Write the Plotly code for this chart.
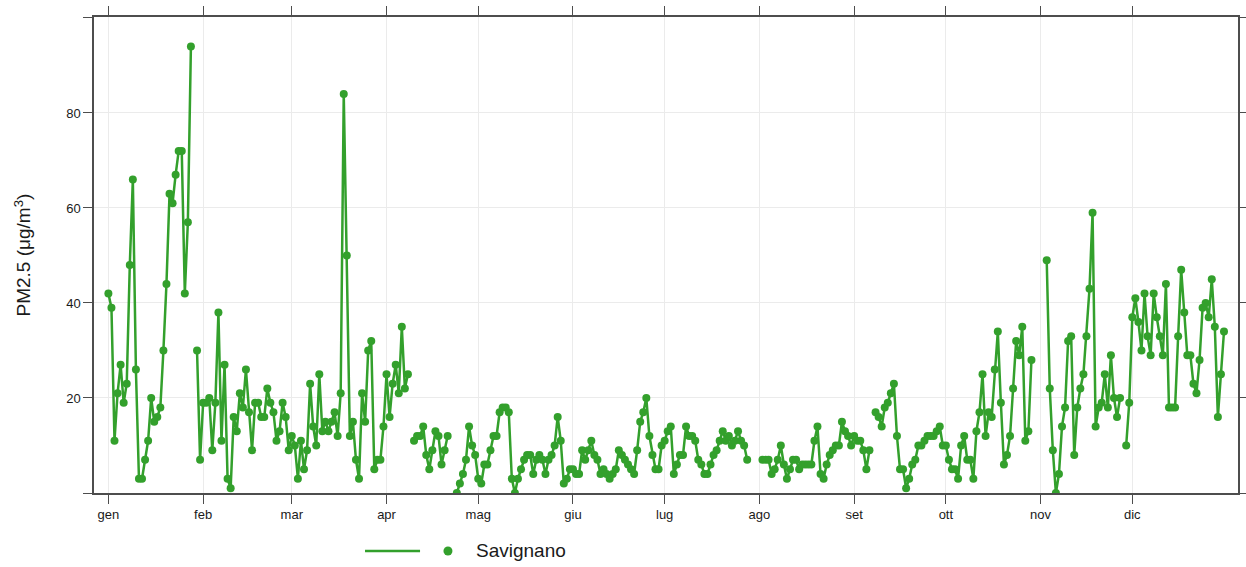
import pandas as pd
import plotly.graph_objects as go

# Daily PM2.5 at Savignano, 2020 (leap year); None = missing day
jan = [42, 39, 11, 21, 27, 19, 23, 48, 66, 26, 3, 3, 7, 11, 20, 15, 16, 18, 30, 44,
       63, 61, 67, 72, 72, 42, 57, 94, None, 30, 7]
feb = [19, 19, 20, 9, 19, 38, 11, 27, 3, 1, 16, 13, 21, 18, 26, 17, 9, 19, 19, 16,
       16, 22, 19, 17, 11, 13, 19, 16, 9]
mar = [12, 10, 3, 11, 5, 9, 23, 14, 10, 25, 13, 15, 13, 15, 17, 12, 21, 84, 50, 12,
       15, 7, 3, 21, 15, 30, 32, 5, 7, 7, 14]
apr = [25, 16, 23, 27, 21, 35, 22, 25, None, 11, 12, 12, 14, 8, 5, 9, 13, 12, 6, 9,
       12, None, None, 0, 2, 4, 7, 14, 10, 8]
may = [3, 2, 6, 6, 9, 12, 12, 17, 18, 18, 17, 3, 0, 3, 5, 7, 8, 8, 4, 7,
       8, 7, 4, 7, 8, 10, 16, 11, 2, 3, 5]
jun = [5, 4, 4, 9, 7, 9, 11, 8, 7, 4, 5, 4, 3, 4, 5, 9, 8, 7, 6, 5,
       4, 9, 15, 17, 20, 12, 8, 5, 5, 10]
jul = [11, 13, 14, 4, 6, 8, 8, 14, 12, 12, 11, 7, 6, 4, 4, 6, 8, 9, 11, 13,
       11, 12, 10, 11, 13, 11, 10, 7, None, None, None]
aug = [None, 7, 7, 7, 4, 5, 7, 10, 6, 3, 5, 7, 7, 5, 6, 6, 6, 6, 11, 14,
       4, 3, 6, 8, 9, 10, 10, 15, 13, 12, 10]
sep = [12, 11, 11, 9, 5, 9, None, 17, 16, 14, 18, 19, 21, 23, 12, 5, 5, 1, 3, 6,
       7, 10, 10, 11, 12, 12, 12, 13, 14, 10]
oct_ = [10, 7, 5, 5, 3, 10, 12, 7, 7, 3, 13, 17, 25, 12, 17, 16, 26, 34, 19, 6,
        8, 12, 22, 32, 29, 35, 11, 13, 28, None, None]
nov = [None, None, 49, 22, 9, 0, 4, 14, 18, 32, 33, 8, 18, 22, 25, 33, 43, 59, 14, 18,
       19, 25, 18, 29, 20, 16, 20, None, 10, 19]
dec = [37, 41, 36, 30, 42, 33, 29, 42, 37, 33, 29, 44, 18, 18, 18, 33, 47, 38, 29, 29,
       23, 21, 28, 39, 40, 37, 45, 35, 16, 25, 34]

month_labels = ["gen", "feb", "mar", "apr", "mag", "giu", "lug", "ago", "set", "ott", "nov", "dic"]
y_ticks = [20, 40, 60, 80]
y_edge_ticks = [0, 100]
series_name = "Savignano"

values = jan + feb + mar + apr + may + jun + jul + aug + sep + oct_ + nov + dec
dates = pd.date_range("2020-01-01", periods=len(values), freq="D")
month_starts = pd.date_range("2020-01-01", periods=12, freq="MS")

GREEN = "#33A02C"
AXIS = "#4d4d4d"
GRID = "#ebebeb"
FONT = "Liberation Sans, Arial, sans-serif"
TXT = "#1a1a1a"

fig = go.Figure()
fig.add_trace(go.Scatter(
    x=dates, y=values, mode="lines+markers", name=series_name,
    line=dict(color=GREEN, width=2.5),
    marker=dict(color=GREEN, size=8),
    connectgaps=False, showlegend=False,
))

# legend drawn below the plot (line segment, dot, label) as in the original
LEG_Y = -0.1218
fig.add_shape(type="line", xref="paper", yref="paper", x0=0.2369, x1=0.2850, y0=LEG_Y, y1=LEG_Y,
              line=dict(color=GREEN, width=2.5))
fig.add_shape(type="circle", xref="paper", yref="paper", xsizemode="pixel", ysizemode="pixel",
              xanchor=0.3094, yanchor=LEG_Y, x0=-4.5, x1=4.5, y0=-4.5, y1=4.5,
              fillcolor=GREEN, line=dict(color=GREEN, width=0))
fig.add_annotation(xref="paper", yref="paper", x=0.3325, y=LEG_Y, text=series_name,
                   showarrow=False, xanchor="left", yanchor="middle",
                   font=dict(family=FONT, size=19, color=TXT))

# y-axis title placed as in the original
fig.add_annotation(xref="paper", yref="paper", x=-0.0625, y=0.5, xanchor="center", yanchor="middle",
                   text="PM2.5 (μg/m<sup>3</sup>)", textangle=-90, showarrow=False,
                   font=dict(family=FONT, size=19, color=TXT))

fig.update_layout(
    width=1246, height=567,
    margin=dict(l=94, r=8, t=17, b=74),
    paper_bgcolor="white", plot_bgcolor="white",
    font=dict(family=FONT, color=TXT),
    showlegend=False,
)
fig.update_xaxes(
    type="date", automargin=False,
    range=["2019-12-27 07:00", "2021-01-04 14:00"],
    tickvals=month_starts, ticktext=month_labels,
    ticks="outside", ticklen=9, tickwidth=1.2, tickcolor=AXIS,
    showline=True, linecolor=AXIS, linewidth=1.5, mirror="allticks",
    showgrid=True, gridcolor=GRID, gridwidth=1, zeroline=False,
    tickfont=dict(family=FONT, size=13, color=TXT),
)
fig.update_yaxes(
    automargin=False,
    range=[0, 100.2],
    tickvals=y_ticks,
    ticks="outside", ticklen=9, tickwidth=1.2, tickcolor=AXIS,
    minor=dict(tickvals=y_edge_ticks, ticks="outside", ticklen=9, tickwidth=1.2,
               tickcolor=AXIS, showgrid=False),
    showline=True, linecolor=AXIS, linewidth=1.5, mirror="allticks",
    showgrid=True, gridcolor=GRID, gridwidth=1, zeroline=False,
    tickfont=dict(family=FONT, size=13, color=TXT),
)

fig.write_html("out.html")
